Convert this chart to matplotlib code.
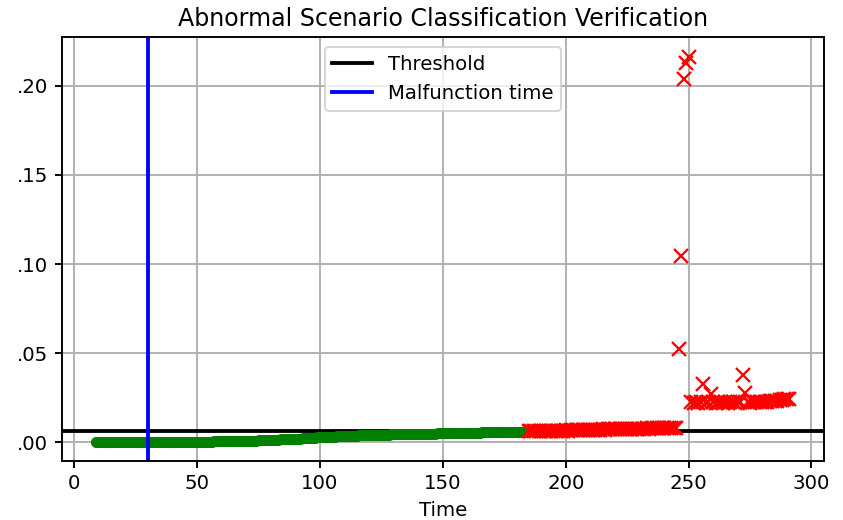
import matplotlib
matplotlib.use("Agg")
import matplotlib.pyplot as plt
from matplotlib.ticker import FuncFormatter

threshold = 0.006
malfunction_time = 30

normal_time = list(range(9, 185))
normal_values = [
    0.0003, 0.0003, 0.0003, 0.0003, 0.0003, 0.0003, 0.0002, 0.0002, 0.0002, 0.0002, 0.0002,
    0.0002, 0.0002, 0.0002, 0.0002, 0.0002, 0.0002, 0.0002, 0.0002, 0.0002, 0.0002,
    0.0002, 0.0002, 0.0002, 0.0002, 0.0002, 0.0002, 0.0002, 0.0002, 0.0002, 0.0002,
    0.0002, 0.0002, 0.0002, 0.0002, 0.0002, 0.0002, 0.0002, 0.0002, 0.0003, 0.0003,
    0.0003, 0.0003, 0.0003, 0.0003, 0.0003, 0.0003, 0.0003, 0.0004, 0.0004, 0.0004,
    0.0004, 0.0004, 0.0004, 0.0005, 0.0005, 0.0005, 0.0005, 0.0006, 0.0006, 0.0006,
    0.0007, 0.0007, 0.0008, 0.0008, 0.0008, 0.0009, 0.0009, 0.0010, 0.0010, 0.0011,
    0.0012, 0.0013, 0.0013, 0.0014, 0.0015, 0.0015, 0.0016, 0.0017, 0.0017, 0.0018,
    0.0019, 0.0019, 0.0020, 0.0021, 0.0021, 0.0022, 0.0023, 0.0024, 0.0025, 0.0026,
    0.0027, 0.0028, 0.0028, 0.0029, 0.0030, 0.0030, 0.0031, 0.0032, 0.0032, 0.0033,
    0.0034, 0.0034, 0.0035, 0.0035, 0.0036, 0.0036, 0.0037, 0.0037, 0.0038, 0.0038,
    0.0039, 0.0039, 0.0040, 0.0040, 0.0041, 0.0041, 0.0042, 0.0042, 0.0042, 0.0043,
    0.0043, 0.0044, 0.0044, 0.0044, 0.0045, 0.0045, 0.0045, 0.0046, 0.0046, 0.0046,
    0.0047, 0.0047, 0.0047, 0.0047, 0.0048, 0.0048, 0.0048, 0.0048, 0.0049, 0.0049,
    0.0049, 0.0049, 0.0050, 0.0050, 0.0050, 0.0050, 0.0051, 0.0051, 0.0051, 0.0051,
    0.0052, 0.0052, 0.0052, 0.0053, 0.0053, 0.0053, 0.0054, 0.0054, 0.0054, 0.0055,
    0.0055, 0.0055, 0.0056, 0.0056, 0.0056, 0.0057, 0.0057, 0.0057, 0.0058, 0.0058,
    0.0058, 0.0059, 0.0059, 0.0059, 0.0060,
]

abnormal_time = list(range(185, 292))
abnormal_values = [
    # 185-245
    0.0060, 0.0061, 0.0060, 0.0062, 0.0061, 0.0062, 0.0063, 0.0062, 0.0063, 0.0064,
    0.0063, 0.0064, 0.0065, 0.0064, 0.0065, 0.0066, 0.0065, 0.0066, 0.0067, 0.0066,
    0.0067, 0.0068, 0.0067, 0.0068, 0.0069, 0.0068, 0.0069, 0.0070, 0.0069, 0.0070,
    0.0071, 0.0070, 0.0071, 0.0072, 0.0071, 0.0072, 0.0073, 0.0072, 0.0073, 0.0074,
    0.0073, 0.0074, 0.0075, 0.0074, 0.0075, 0.0076, 0.0075, 0.0076, 0.0077, 0.0076,
    0.0077, 0.0078, 0.0077, 0.0078, 0.0079, 0.0078, 0.0079, 0.0080, 0.0079, 0.0080,
    0.0080,
    # 246-250
    0.0525, 0.1045, 0.2040, 0.2130, 0.2165,
    # 251-291
    0.0225, 0.0222, 0.0224, 0.0221, 0.0223, 0.0325, 0.0222, 0.0224, 0.0270, 0.0223,
    0.0222, 0.0224, 0.0223, 0.0221, 0.0224, 0.0222, 0.0223, 0.0225, 0.0222, 0.0224,
    0.0223, 0.0377, 0.0278, 0.0224, 0.0222, 0.0225, 0.0223, 0.0224, 0.0226, 0.0225,
    0.0227, 0.0226, 0.0228, 0.0230, 0.0231, 0.0233, 0.0235, 0.0238, 0.0240, 0.0242,
    0.0244,
]

plt.rcParams["axes.linewidth"] = 1.0
plt.rcParams["grid.linewidth"] = 1.0
plt.rcParams["xtick.major.width"] = 1.0
plt.rcParams["ytick.major.width"] = 1.0
plt.rcParams["font.size"] = 10.3

fig = plt.figure(figsize=(843 / 138, 520 / 138), dpi=138)
ax = fig.add_axes([0.0732, 0.1135, 0.9775 - 0.0732, 0.9283 - 0.1135])

ax.axhline(threshold, color="black", linewidth=2, label="Threshold")
ax.plot(normal_time, normal_values, "o", color="green", markersize=4.8)
ax.plot(abnormal_time, abnormal_values, "x", color="red", markersize=7,
        markeredgewidth=1.2)
ax.axvline(malfunction_time, color="blue", linewidth=2, label="Malfunction time")

ax.grid(True)
ax.set_title("Abnormal Scenario Classification Verification")
ax.set_xlabel("Time")
ax.yaxis.set_major_formatter(FuncFormatter(lambda v, p: f"{v:.2f}"[1:] if v >= 0 else f"{v:.2f}"))
ax.legend(loc="upper center")

fig.savefig("out.png", dpi=138)
